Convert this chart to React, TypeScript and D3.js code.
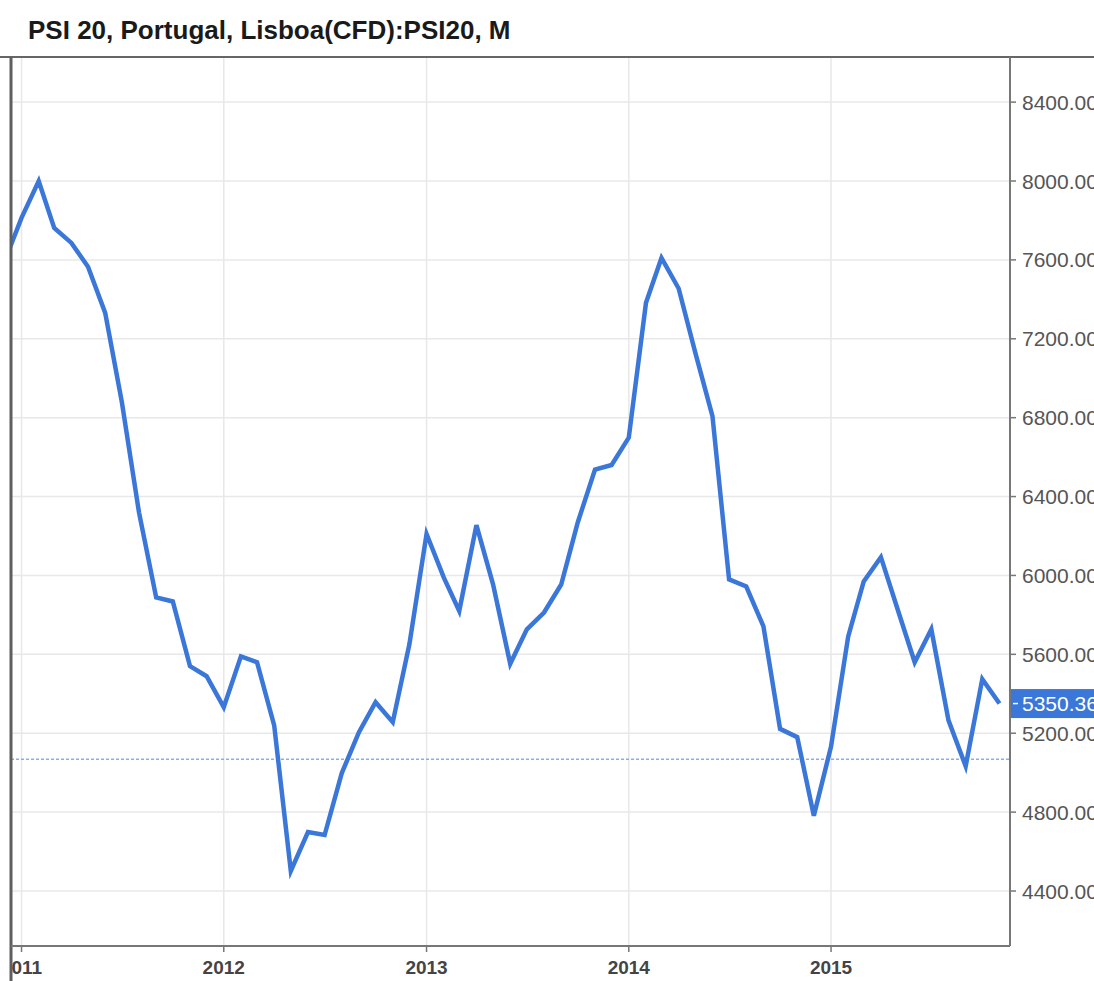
import * as d3 from "d3";

const W = 1094, H = 981;
const L = 11, R = 1010, T = 57, B = 946;

const months = [
  "2010-12",
  "2011-01", "2011-02", "2011-03", "2011-04", "2011-05", "2011-06", "2011-07", "2011-08", "2011-09", "2011-10", "2011-11", "2011-12",
  "2012-01", "2012-02", "2012-03", "2012-04", "2012-05", "2012-06", "2012-07", "2012-08", "2012-09", "2012-10", "2012-11", "2012-12",
  "2013-01", "2013-02", "2013-03", "2013-04", "2013-05", "2013-06", "2013-07", "2013-08", "2013-09", "2013-10", "2013-11", "2013-12",
  "2014-01", "2014-02", "2014-03", "2014-04", "2014-05", "2014-06", "2014-07", "2014-08", "2014-09", "2014-10", "2014-11", "2014-12",
  "2015-01", "2015-02", "2015-03", "2015-04", "2015-05", "2015-06", "2015-07", "2015-08", "2015-09", "2015-10", "2015-11",
];

const closes = [
  7590,
  7813, 8000, 7762, 7686, 7565, 7331, 6880, 6320, 5889, 5868, 5540, 5489,
  5332, 5590, 5560, 5240, 4502, 4699, 4684, 4998, 5205, 5357, 5256, 5651,
  6210, 5990, 5820, 6255, 5955, 5552, 5727, 5812, 5954, 6270, 6537, 6560,
  6699, 7382, 7610, 7455, 7130, 6808, 5980, 5944, 5742, 5222, 5180, 4782,
  5132, 5691, 5970, 6093, 5830, 5560, 5727, 5265, 5033, 5474, 5350.36,
];

const yTicks = [4400, 4800, 5200, 5600, 6000, 6400, 6800, 7200, 7600, 8000, 8400];
const yearTicks = ["2011", "2012", "2013", "2014", "2015"];
const refLevel = 5068;
const lastValue = 5350.36;

const parseMonth = d3.timeParse("%Y-%m");

export default function App() {
  const data = months.map((m, i) => ({ date: parseMonth(m) as Date, v: closes[i] }));

  const x = d3.scaleTime([new Date(2010, 11, 13), new Date(2015, 10, 20)], [L, R]);
  const y = d3.scaleLinear([4400, 8000], [891, 181]);

  const line = d3.line<{ date: Date; v: number }>().x((d) => x(d.date)).y((d) => y(d.v));

  const font = "'Liberation Sans', Arial, sans-serif";

  return (
    <div style={{ position: "absolute", left: 0, top: 0 }}>
      <svg width={W} height={H} style={{ display: "block", background: "#fff" }}>
        <defs>
          <clipPath id="plot">
            <rect x={L} y={T} width={R - L} height={B - T} />
          </clipPath>
          <clipPath id="xlab">
            <rect x={L} y={B} width={R - L + 40} height={H - B} />
          </clipPath>
        </defs>

        <text x={28} y={39} fontFamily={font} fontWeight="bold" fontSize={26} fill="#1a1a1a">
          PSI 20, Portugal, Lisboa(CFD):PSI20, M
        </text>

        {/* grid */}
        <g clipPath="url(#plot)">
          {yTicks.map((t) => (
            <line key={t} x1={L} x2={R} y1={y(t)} y2={y(t)} stroke="#e8e8e8" strokeWidth={1.5} />
          ))}
          {yearTicks.map((yr) => {
            const xv = x(new Date(+yr, 0, 1));
            return <line key={yr} x1={xv} x2={xv} y1={T} y2={B} stroke="#e8e8e8" strokeWidth={1.5} />;
          })}
          <line x1={L} x2={R} y1={y(refLevel)} y2={y(refLevel)} stroke="#85aef0" strokeWidth={1.5}
            strokeDasharray="3,2" />
          <path d={line(data) ?? ""} fill="none" stroke="#3a77d8" strokeWidth={4.5} strokeLinejoin="miter" />
        </g>

        {/* frame */}
        <line x1={0} x2={W} y1={T} y2={T} stroke="#666" strokeWidth={2} />
        <line x1={L} x2={L} y1={T} y2={H} stroke="#5f5f5f" strokeWidth={3} />
        <line x1={L} x2={R} y1={B} y2={B} stroke="#777" strokeWidth={2} />
        <line x1={R} x2={R} y1={T} y2={B} stroke="#777" strokeWidth={2} />

        {/* y axis (right) */}
        {yTicks.map((t) => (
          <g key={t} transform={`translate(${R},${y(t)})`}>
            <line x1={1} x2={6} stroke="#777" strokeWidth={1.5} />
            <text x={12} dy="0.36em" fontFamily={font} fontSize={21} fill="#555">
              {d3.format(".2f")(t)}
            </text>
          </g>
        ))}

        {/* last value marker */}
        <g transform={`translate(${R},${y(lastValue)})`}>
          <rect x={1} y={-14.5} width={W - R} height={29} fill="#3a77d8" />
          <line x1={3} x2={8} stroke="#fff" strokeWidth={1.5} />
          <text x={12} dy="0.36em" fontFamily={font} fontSize={21} fill="#fff">
            {d3.format(".2f")(lastValue)}
          </text>
        </g>

        {/* x axis */}
        <g clipPath="url(#xlab)">
          {yearTicks.map((yr) => {
            const xv = x(new Date(+yr, 0, 1));
            return (
              <g key={yr} transform={`translate(${xv},${B})`}>
                <line y1={1} y2={6} stroke="#777" strokeWidth={1.5} />
                <text y={28} textAnchor="middle" fontFamily={font} fontWeight="bold" fontSize={19} fill="#444">
                  {yr}
                </text>
              </g>
            );
          })}
        </g>
      </svg>
    </div>
  );
}
